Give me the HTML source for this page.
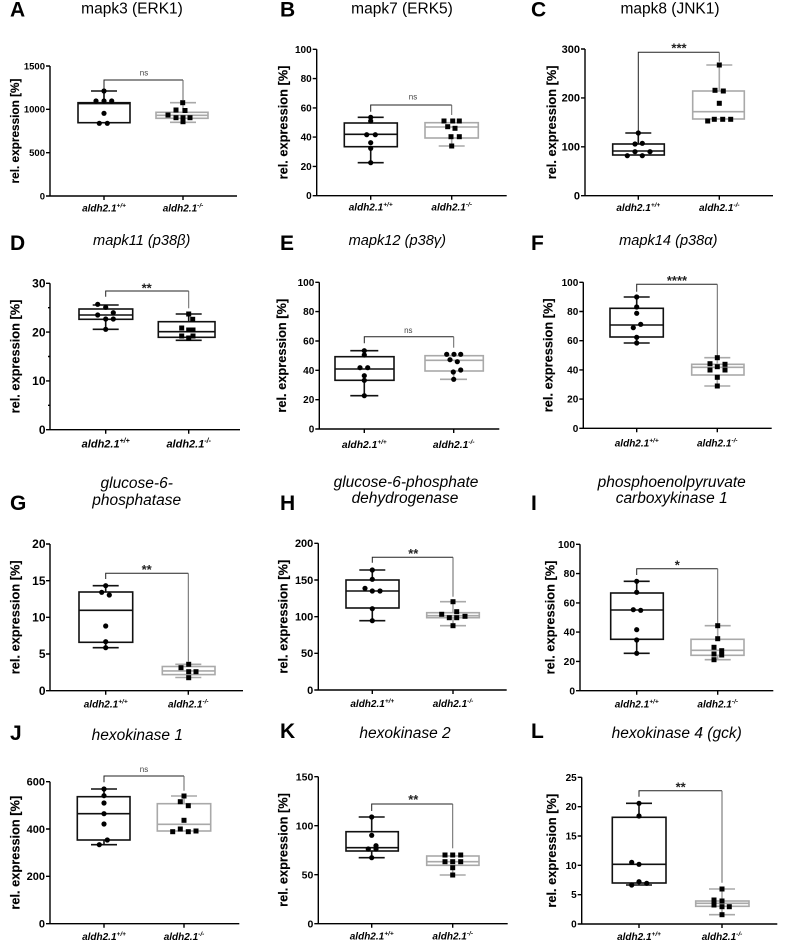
<!DOCTYPE html>
<html><head><meta charset="utf-8"><style>
html,body{margin:0;padding:0;background:#fff}
svg{display:block}
.ax{stroke:#000;stroke-width:1.4;fill:none}
.bk{stroke:#111;stroke-width:1.6;fill:none}
.gy{stroke:#a9a9a9;stroke-width:1.6;fill:none}
.br{stroke:#222;stroke-width:1;fill:none}
.br2{stroke:#666;stroke-width:1;fill:none}
text{font-family:"Liberation Sans",Arial,sans-serif;fill:#000}
.tk{font-weight:bold;text-anchor:end}
.yl{font-weight:bold;font-size:12.8px;text-anchor:middle;stroke:#000;stroke-width:0.15}
.xl{font-weight:bold;font-style:italic;font-size:10px;text-anchor:middle}
.ti{font-size:15.5px;text-anchor:middle}
.it{font-style:italic}
.lt{font-weight:bold;font-size:21px}
.ns{font-size:8px;fill:#444;text-anchor:middle}
.st{font-size:13px;font-weight:bold;fill:#222;text-anchor:middle}
circle{fill:#000}
.q{fill:#000}
</style></head><body>
<svg width="809" height="951" viewBox="0 0 809 951" xmlns="http://www.w3.org/2000/svg">
<rect width="809" height="951" fill="#fff"/>

<!-- ===== A ===== -->
<text class="lt" x="10" y="16.7">A</text>
<text class="ti" x="132" y="13.5">mapk3 (ERK1)</text>
<text class="yl" style="font-size:11.8px" transform="translate(19,131) rotate(-90)">rel. expression [%]</text>
<path class="ax" d="M50,66V196H237M46,66H50M46,109.3H50M46,152.7H50M46,196H50M104,196V200M183,196V200"/>
<g class="tk" style="font-size:9.5px"><text x="45" y="69.3">1500</text><text x="45" y="112.6">1000</text><text x="45" y="156">500</text><text x="45" y="199.3">0</text></g>
<text class="xl" x="104" y="211.5">aldh2.1<tspan font-size="6.5" dy="-4">+/+</tspan></text>
<text class="xl" x="183" y="211.5">aldh2.1<tspan font-size="6.5" dy="-4">-/-</tspan></text>
<rect class="bk" x="78" y="102.7" width="52" height="20"/><path class="bk" d="M78,103.6H130M104,102.7V91M91,91H117"/>
<rect class="gy" x="156" y="112.3" width="52" height="6"/><path class="gy" d="M156,115.3H208M183,112.3V102.7M170,102.7H196M183,118.3V122.3M170,122.3H196"/>
<path class="br" d="M104,90V80H183"/><path class="br2" d="M183,80V100"/>
<text class="ns" x="144" y="75.3">ns</text>
<circle cx="104" cy="91" r="2.6"/><circle cx="96" cy="101" r="2.6"/><circle cx="104" cy="101" r="2.6"/><circle cx="111.7" cy="101" r="2.6"/><circle cx="104" cy="113.3" r="2.6"/><circle cx="99.3" cy="123.3" r="2.6"/><circle cx="107.3" cy="123.3" r="2.6"/>
<g class="q"><rect x="180.2" y="100.2" width="5" height="5"/><rect x="173.5" y="107.5" width="5" height="5"/><rect x="182.5" y="108" width="5" height="5"/><rect x="165.5" y="112.5" width="5" height="5"/><rect x="173.5" y="115.2" width="5" height="5"/><rect x="180.5" y="115.2" width="5" height="5"/><rect x="187.5" y="115.2" width="5" height="5"/><rect x="180.5" y="119.2" width="5" height="5"/></g>

<!-- ===== B ===== -->
<text class="lt" x="280" y="16.7">B</text>
<text class="ti" x="402" y="13.5">mapk7 (ERK5)</text>
<text class="yl" transform="translate(287.5,122.5) rotate(-90)">rel. expression [%]</text>
<path class="ax" d="M316.7,49.3V195.7H506.7M312.7,49.3H316.7M312.7,78.6H316.7M312.7,107.9H316.7M312.7,137.1H316.7M312.7,166.4H316.7M312.7,195.7H316.7M370.7,195.7V199.7M451.7,195.7V199.7"/>
<g class="tk" style="font-size:10px"><text x="311.7" y="52.8">100</text><text x="311.7" y="82.1">80</text><text x="311.7" y="111.4">60</text><text x="311.7" y="140.6">40</text><text x="311.7" y="169.9">20</text><text x="311.7" y="199.2">0</text></g>
<text class="xl" x="370.7" y="210.5">aldh2.1<tspan font-size="6.5" dy="-4">+/+</tspan></text>
<text class="xl" x="451.7" y="210.5">aldh2.1<tspan font-size="6.5" dy="-4">-/-</tspan></text>
<rect class="bk" x="344.3" y="123" width="53" height="23.7"/><path class="bk" d="M344.3,134.3H397.3M370.7,123V117.3M357.7,117.3H383.7M370.7,146.7V162.7M357.7,162.7H383.7"/>
<rect class="gy" x="425" y="122.7" width="53.3" height="15.3"/><path class="gy" d="M425,127H478.3M451.7,138V146M438.7,146H464.7"/>
<path class="br" d="M370.7,111.7V105H451.7"/><path class="br2" d="M451.7,105V115"/>
<text class="ns" x="413" y="99.7">ns</text>
<circle cx="370.7" cy="117.3" r="2.6"/><circle cx="370.7" cy="121" r="2.6"/><circle cx="366.7" cy="134.7" r="2.6"/><circle cx="375.3" cy="134.7" r="2.6"/><circle cx="370.7" cy="142.7" r="2.6"/><circle cx="370.7" cy="148.3" r="2.6"/><circle cx="370.7" cy="162.7" r="2.6"/>
<g class="q"><rect x="441.5" y="118.5" width="5" height="5"/><rect x="450.2" y="118.5" width="5" height="5"/><rect x="456.8" y="118.5" width="5" height="5"/><rect x="445.2" y="124.2" width="5" height="5"/><rect x="452.5" y="125.8" width="5" height="5"/><rect x="448.5" y="134.2" width="5" height="5"/><rect x="456.8" y="134.2" width="5" height="5"/><rect x="449.2" y="143.5" width="5" height="5"/></g>

<!-- ===== C ===== -->
<text class="lt" x="531" y="16.7">C</text>
<text class="ti" x="670" y="13.5">mapk8 (JNK1)</text>
<text class="yl" transform="translate(556,122.4) rotate(-90)">rel. expression [%]</text>
<path class="ax" d="M585,49V195.7H773M581,49H585M581,97.9H585M581,146.8H585M581,195.7H585M638.3,195.7V199.7M719.3,195.7V199.7"/>
<g class="tk" style="font-size:11px"><text x="580" y="52.8">300</text><text x="580" y="101.7">200</text><text x="580" y="150.6">100</text><text x="580" y="199.5">0</text></g>
<text class="xl" x="638.3" y="211">aldh2.1<tspan font-size="6.5" dy="-4">+/+</tspan></text>
<text class="xl" x="719.3" y="211">aldh2.1<tspan font-size="6.5" dy="-4">-/-</tspan></text>
<rect class="bk" x="612.7" y="144" width="51.6" height="11"/><path class="bk" d="M612.7,151H664.3M638.3,144V133M625.3,133H651.3"/>
<rect class="gy" x="692.7" y="91" width="51.6" height="28"/><path class="gy" d="M692.7,111.7H744.3M719.3,91V65M706.3,65H732.3"/>
<path class="br" d="M638.3,131.7V52.3H719.3"/><path class="br2" d="M719.3,52.3V61.7"/>
<text class="st" x="679" y="52.5">***</text>
<circle cx="638.3" cy="133" r="2.6"/><circle cx="635" cy="144" r="2.6"/><circle cx="642.3" cy="143.3" r="2.6"/><circle cx="627.3" cy="155.7" r="2.6"/><circle cx="635" cy="151.7" r="2.6"/><circle cx="642.3" cy="155.7" r="2.6"/><circle cx="650" cy="151.7" r="2.6"/>
<g class="q"><rect x="716.8" y="62.5" width="5" height="5"/><rect x="712.5" y="87.8" width="5" height="5"/><rect x="720.8" y="88.5" width="5" height="5"/><rect x="716.8" y="100.8" width="5" height="5"/><rect x="705.2" y="118.5" width="5" height="5"/><rect x="711.8" y="116.8" width="5" height="5"/><rect x="720.2" y="116.8" width="5" height="5"/><rect x="728.2" y="116.8" width="5" height="5"/></g>

<!-- ===== D ===== -->
<text class="lt" x="10" y="250">D</text>
<text class="ti it" style="font-size:14.6px" x="141.7" y="245">mapk11 (p38β)</text>
<text class="yl" transform="translate(19.5,356.5) rotate(-90)">rel. expression [%]</text>
<path class="ax" d="M50,283.3V429.7H240M46,283.3H50M46,332.1H50M46,380.9H50M46,429.7H50M48,307.7H50M48,356.5H50M48,405.3H50M105.7,429.7V433.7M188.7,429.7V433.7"/>
<g class="tk" style="font-size:12px"><text x="45.5" y="287.5">30</text><text x="45.5" y="336.3">20</text><text x="45.5" y="385.1">10</text><text x="45.5" y="433.9">0</text></g>
<text class="xl" style="font-size:11px" x="105.7" y="447.5">aldh2.1<tspan font-size="7" dy="-4.5">+/+</tspan></text>
<text class="xl" style="font-size:11px" x="188.7" y="447.5">aldh2.1<tspan font-size="7" dy="-4.5">-/-</tspan></text>
<rect class="bk" x="79" y="309" width="53.7" height="10.3"/><path class="bk" d="M79,315H132.7M105.7,309V305M92.7,305H118.7M105.7,319.3V329.3M92.7,329.3H118.7"/>
<rect class="bk" x="158.3" y="321.7" width="56.7" height="15.6"/><path class="bk" d="M158.3,331.7H215M188.7,321.7V314M175.7,314H201.7M188.7,337.3V340.3M175.7,340.3H201.7"/>
<path class="br" d="M105.7,296.7V291H188.7"/><path class="br2" d="M188.7,291V308.3"/>
<text class="st" x="146.7" y="292.5">**</text>
<circle cx="97.7" cy="304.3" r="2.6"/><circle cx="105.7" cy="307.3" r="2.6"/><circle cx="97.7" cy="315" r="2.6"/><circle cx="113.3" cy="312.7" r="2.6"/><circle cx="105.7" cy="319" r="2.6"/><circle cx="113.3" cy="319" r="2.6"/><circle cx="105.7" cy="329.3" r="2.6"/>
<g class="q"><rect x="186.2" y="311.5" width="5" height="5"/><rect x="190.2" y="316.8" width="5" height="5"/><rect x="179.2" y="325.5" width="5" height="5"/><rect x="186.2" y="327.5" width="5" height="5"/><rect x="190.5" y="327.5" width="5" height="5"/><rect x="179.2" y="333.5" width="5" height="5"/><rect x="186.2" y="335.5" width="5" height="5"/><rect x="190.5" y="333.5" width="5" height="5"/></g>

<!-- ===== E ===== -->
<text class="lt" x="280" y="250">E</text>
<text class="ti it" style="font-size:14.6px" x="397.3" y="245">mapk12 (p38γ)</text>
<text class="yl" transform="translate(286,355.7) rotate(-90)">rel. expression [%]</text>
<path class="ax" d="M319.3,282.3V429H499.3M315.3,282.3H319.3M315.3,311.6H319.3M315.3,341H319.3M315.3,370.3H319.3M315.3,399.7H319.3M315.3,429H319.3M364.3,429V433M453.7,429V433"/>
<g class="tk" style="font-size:10px"><text x="314.3" y="285.8">100</text><text x="314.3" y="315.1">80</text><text x="314.3" y="344.5">60</text><text x="314.3" y="373.8">40</text><text x="314.3" y="403.2">20</text><text x="314.3" y="432.5">0</text></g>
<text class="xl" style="font-size:10.3px" x="364.3" y="448">aldh2.1<tspan font-size="6.5" dy="-4">+/+</tspan></text>
<text class="xl" style="font-size:10.3px" x="453.7" y="448">aldh2.1<tspan font-size="6.5" dy="-4">-/-</tspan></text>
<rect class="bk" x="335" y="356.7" width="59" height="23.6"/><path class="bk" d="M335,369H394M364.3,356.7V350.7M350.3,350.7H378.3M364.3,380.3V395.7M350.3,395.7H378.3"/>
<rect class="gy" x="425" y="355.7" width="58.3" height="15.3"/><path class="gy" d="M425,360.3H483.3M453.7,371V379.3M440,379.3H467"/>
<path class="br" d="M364.3,343.3V336.7H453.7"/><path class="br2" d="M453.7,336.7V347.7"/>
<text class="ns" x="408.3" y="333">ns</text>
<circle cx="364.3" cy="350.7" r="2.6"/><circle cx="364.3" cy="355" r="2.6"/><circle cx="360" cy="367.7" r="2.6"/><circle cx="367.7" cy="367.7" r="2.6"/><circle cx="364.3" cy="375.7" r="2.6"/><circle cx="364.3" cy="380.3" r="2.6"/><circle cx="364.3" cy="395.7" r="2.6"/>
<circle cx="446.7" cy="354.3" r="2.6"/><circle cx="454" cy="354.3" r="2.6"/><circle cx="460.7" cy="354.3" r="2.6"/><circle cx="450" cy="359.7" r="2.6"/><circle cx="457.3" cy="361.7" r="2.6"/><circle cx="453.3" cy="372" r="2.6"/><circle cx="460.7" cy="370" r="2.6"/><circle cx="453.7" cy="379.3" r="2.6"/>

<!-- ===== F ===== -->
<text class="lt" x="531" y="250">F</text>
<text class="ti it" style="font-size:14.6px" x="668.3" y="245">mapk14 (p38α)</text>
<text class="yl" transform="translate(552.5,355.3) rotate(-90)">rel. expression [%]</text>
<path class="ax" d="M583.3,282.3V428.3H771.7M579.3,282.3H583.3M579.3,311.5H583.3M579.3,340.7H583.3M579.3,369.9H583.3M579.3,399.1H583.3M579.3,428.3H583.3M636.7,428.3V432.3M717.3,428.3V432.3"/>
<g class="tk" style="font-size:10px"><text x="578.3" y="285.8">100</text><text x="578.3" y="315">80</text><text x="578.3" y="344.2">60</text><text x="578.3" y="373.4">40</text><text x="578.3" y="402.6">20</text><text x="578.3" y="431.8">0</text></g>
<text class="xl" x="636.7" y="446.5">aldh2.1<tspan font-size="6.5" dy="-4">+/+</tspan></text>
<text class="xl" x="717.3" y="446.5">aldh2.1<tspan font-size="6.5" dy="-4">-/-</tspan></text>
<rect class="bk" x="610" y="308.3" width="53.3" height="28.7"/><path class="bk" d="M610,325H663.3M636.7,308.3V297M623.7,297H649.7M636.7,337V343M623.7,343H649.7"/>
<rect class="gy" x="691.7" y="364.3" width="52.3" height="10.7"/><path class="gy" d="M691.7,367.3H744M717.3,364.3V357.7M704.3,357.7H730.3M717.3,375V386M704.3,386H730.3"/>
<path class="br" d="M636.7,291.7V284.3H717.3"/><path class="br2" d="M717.3,284.3V357.7"/>
<text class="st" x="677" y="285.2">****</text>
<circle cx="636.7" cy="297" r="2.6"/><circle cx="636.7" cy="307" r="2.6"/><circle cx="636.7" cy="313.3" r="2.6"/><circle cx="640.7" cy="324.3" r="2.6"/><circle cx="633.3" cy="327.7" r="2.6"/><circle cx="636.7" cy="337.3" r="2.6"/><circle cx="636.7" cy="343" r="2.6"/>
<g class="q"><rect x="714.8" y="355.2" width="5" height="5"/><rect x="707.5" y="361.2" width="5" height="5"/><rect x="722.5" y="361.8" width="5" height="5"/><rect x="707.5" y="367.5" width="5" height="5"/><rect x="714.8" y="364.2" width="5" height="5"/><rect x="722.5" y="367.5" width="5" height="5"/><rect x="714.8" y="374.8" width="5" height="5"/><rect x="714.8" y="383.5" width="5" height="5"/></g>

<!-- ===== G ===== -->
<text class="lt" x="10" y="510">G</text>
<text class="ti it" x="136.7" y="488">glucose-6-</text>
<text class="ti it" x="136.7" y="505">phosphatase</text>
<text class="yl" transform="translate(19.5,617.3) rotate(-90)">rel. expression [%]</text>
<path class="ax" d="M50,544V690.7H243M46,544H50M46,580.7H50M46,617.3H50M46,654H50M46,690.7H50M105.7,690.7V694.7M188.3,690.7V694.7"/>
<g class="tk" style="font-size:12px"><text x="45.5" y="548.2">20</text><text x="45.5" y="584.9">15</text><text x="45.5" y="621.5">10</text><text x="45.5" y="658.2">5</text><text x="45.5" y="694.9">0</text></g>
<text class="xl" x="105.7" y="707.5">aldh2.1<tspan font-size="6.5" dy="-4">+/+</tspan></text>
<text class="xl" x="188.3" y="707.5">aldh2.1<tspan font-size="6.5" dy="-4">-/-</tspan></text>
<rect class="bk" x="79" y="592" width="53.7" height="50.3"/><path class="bk" d="M79,610.3H132.7M105.7,592V585.7M92.7,585.7H118.7M105.7,642.3V647.7M92.7,647.7H118.7"/>
<rect class="gy" x="162.3" y="666.5" width="52.7" height="8.1"/><path class="gy" d="M162.3,670.9H215M188.3,666.5V664.3M175.3,664.3H201.3M188.3,674.6V677.5M175.3,677.5H201.3"/>
<path class="br" d="M105.7,579V573.3H188.3"/><path class="br2" d="M188.3,573.3V661.7"/>
<text class="st" x="146.7" y="574.2">**</text>
<circle cx="105.7" cy="585.7" r="2.6"/><circle cx="101.7" cy="592.3" r="2.6"/><circle cx="109.3" cy="595" r="2.6"/><circle cx="105.7" cy="626" r="2.6"/><circle cx="105.7" cy="641.7" r="2.6"/><circle cx="105.7" cy="647.7" r="2.6"/>
<g class="q"><rect x="178.5" y="665.2" width="5" height="5"/><rect x="186.2" y="661.8" width="5" height="5"/><rect x="186.2" y="669.2" width="5" height="5"/><rect x="193.5" y="669.2" width="5" height="5"/><rect x="186.2" y="675.2" width="5" height="5"/></g>

<!-- ===== H ===== -->
<text class="lt" x="280" y="510">H</text>
<text class="ti it" x="406" y="487">glucose-6-phosphate</text>
<text class="ti it" x="405" y="503">dehydrogenase</text>
<text class="yl" transform="translate(287.5,616.7) rotate(-90)">rel. expression [%]</text>
<path class="ax" d="M318.3,543.3V690H506.7M314.3,543.3H318.3M314.3,580H318.3M314.3,616.7H318.3M314.3,653.3H318.3M314.3,690H318.3M372.3,690V694M453,690V694"/>
<g class="tk" style="font-size:11px"><text x="313.3" y="547.1">200</text><text x="313.3" y="583.8">150</text><text x="313.3" y="620.5">100</text><text x="313.3" y="657.1">50</text><text x="313.3" y="693.8">0</text></g>
<text class="xl" x="372.3" y="707">aldh2.1<tspan font-size="6.5" dy="-4">+/+</tspan></text>
<text class="xl" x="453" y="707">aldh2.1<tspan font-size="6.5" dy="-4">-/-</tspan></text>
<rect class="bk" x="346" y="580" width="53" height="28"/><path class="bk" d="M346,591H399M372.3,580V570M359.3,570H385.3M372.3,608V620.7M359.3,620.7H385.3"/>
<rect class="gy" x="426.7" y="612.7" width="52.6" height="5"/><path class="gy" d="M426.7,615.7H479.3M453,612.7V601.7M440,601.7H466M453,617.7V625.7M440,625.7H466"/>
<path class="br" d="M372.3,562.7V557.3H453"/><path class="br2" d="M453,557.3V596.7"/>
<text class="st" x="413.3" y="558.2">**</text>
<circle cx="372.3" cy="570" r="2.6"/><circle cx="372.3" cy="579.3" r="2.6"/><circle cx="365" cy="588.3" r="2.6"/><circle cx="372.3" cy="591" r="2.6"/><circle cx="380" cy="591" r="2.6"/><circle cx="372.3" cy="608.7" r="2.6"/><circle cx="372.3" cy="620.7" r="2.6"/>
<g class="q"><rect x="450.5" y="599.2" width="5" height="5"/><rect x="439.2" y="611.8" width="5" height="5"/><rect x="454.2" y="609.2" width="5" height="5"/><rect x="446.8" y="615.2" width="5" height="5"/><rect x="454.2" y="615.2" width="5" height="5"/><rect x="462.5" y="613.8" width="5" height="5"/><rect x="450.5" y="623.2" width="5" height="5"/></g>

<!-- ===== I ===== -->
<text class="lt" x="531" y="510">I</text>
<text class="ti it" x="671.7" y="487">phosphoenolpyruvate</text>
<text class="ti it" x="671.7" y="503">carboxykinase 1</text>
<text class="yl" transform="translate(554.5,617.5) rotate(-90)">rel. expression [%]</text>
<path class="ax" d="M580,544.3V690.7H773.3M576,544.3H580M576,573.6H580M576,602.9H580M576,632.1H580M576,661.4H580M576,690.7H580M636.7,690.7V694.7M717.7,690.7V694.7"/>
<g class="tk" style="font-size:10.2px"><text x="575" y="547.9">100</text><text x="575" y="577.2">80</text><text x="575" y="606.5">60</text><text x="575" y="635.7">40</text><text x="575" y="665">20</text><text x="575" y="694.3">0</text></g>
<text class="xl" x="636.7" y="707.5">aldh2.1<tspan font-size="6.5" dy="-4">+/+</tspan></text>
<text class="xl" x="717.7" y="707.5">aldh2.1<tspan font-size="6.5" dy="-4">-/-</tspan></text>
<rect class="bk" x="610.7" y="593" width="52.6" height="46.3"/><path class="bk" d="M610.7,610H663.3M636.7,593V581.3M623.7,581.3H649.7M636.7,639.3V653.3M623.7,653.3H649.7"/>
<rect class="gy" x="691" y="639.3" width="53" height="16"/><path class="gy" d="M691,650.3H744M717.7,639.3V625.7M704.7,625.7H730.7M717.7,655.3V659.7M704.7,659.7H730.7"/>
<path class="br" d="M636.7,575V568.7H717.7"/><path class="br2" d="M717.7,568.7V625"/>
<text class="st" x="677.3" y="569.7">*</text>
<circle cx="636.7" cy="581.3" r="2.6"/><circle cx="636.7" cy="592.3" r="2.6"/><circle cx="633.3" cy="609.7" r="2.6"/><circle cx="640.7" cy="610.3" r="2.6"/><circle cx="636.7" cy="629.7" r="2.6"/><circle cx="636.7" cy="640" r="2.6"/><circle cx="636.7" cy="653.3" r="2.6"/>
<g class="q"><rect x="715.2" y="623.2" width="5" height="5"/><rect x="715.2" y="636.2" width="5" height="5"/><rect x="711.5" y="644.8" width="5" height="5"/><rect x="719.2" y="648.2" width="5" height="5"/><rect x="711.5" y="651.5" width="5" height="5"/><rect x="719.2" y="652.5" width="5" height="5"/><rect x="711.5" y="657.2" width="5" height="5"/></g>

<!-- ===== J ===== -->
<text class="lt" x="10" y="740">J</text>
<text class="ti it" x="137.3" y="740">hexokinase 1</text>
<text class="yl" transform="translate(19.5,852.7) rotate(-90)">rel. expression [%]</text>
<path class="ax" d="M50,781.7V923.7H239.3M46,781.7H50M46,829H50M46,876.3H50M46,923.7H50M104,923.7V927.7M184,923.7V927.7"/>
<g class="tk" style="font-size:11px"><text x="45" y="785.5">600</text><text x="45" y="832.8">400</text><text x="45" y="880.1">200</text><text x="45" y="927.5">0</text></g>
<text class="xl" x="104" y="940">aldh2.1<tspan font-size="6.5" dy="-4">+/+</tspan></text>
<text class="xl" x="184" y="940">aldh2.1<tspan font-size="6.5" dy="-4">-/-</tspan></text>
<rect class="bk" x="77.3" y="796.7" width="52.7" height="43.3"/><path class="bk" d="M77.3,813.7H130M104,796.7V789M91,789H117M104,840V844.7M91,844.7H117"/>
<rect class="gy" x="157.3" y="803.7" width="53.4" height="27.3"/><path class="gy" d="M157.3,824.3H210.7M184,803.7V796M171,796H197"/>
<path class="br" d="M104,782.3V776H184"/><path class="br2" d="M184,776V790.7"/>
<text class="ns" x="144" y="772">ns</text>
<circle cx="104" cy="789" r="2.6"/><circle cx="104" cy="795.7" r="2.6"/><circle cx="104" cy="803" r="2.6"/><circle cx="104" cy="813.7" r="2.6"/><circle cx="104" cy="824" r="2.6"/><circle cx="107.3" cy="840" r="2.6"/><circle cx="99.3" cy="844.7" r="2.6"/>
<g class="q"><rect x="181.5" y="793.5" width="5" height="5"/><rect x="177.8" y="799.2" width="5" height="5"/><rect x="185.8" y="803.2" width="5" height="5"/><rect x="181.5" y="817.8" width="5" height="5"/><rect x="170.2" y="829.2" width="5" height="5"/><rect x="177.8" y="826.5" width="5" height="5"/><rect x="185.8" y="829.2" width="5" height="5"/><rect x="193.5" y="828.5" width="5" height="5"/></g>

<!-- ===== K ===== -->
<text class="lt" x="280" y="738">K</text>
<text class="ti it" x="405" y="738">hexokinase 2</text>
<text class="yl" transform="translate(287.5,850) rotate(-90)">rel. expression [%]</text>
<path class="ax" d="M318.3,776.7V923.7H507.7M314.3,776.7H318.3M314.3,825.7H318.3M314.3,874.7H318.3M314.3,923.7H318.3M371.7,923.7V927.7M452.7,923.7V927.7"/>
<g class="tk" style="font-size:10.5px"><text x="313.3" y="780.4">150</text><text x="313.3" y="829.4">100</text><text x="313.3" y="878.4">50</text><text x="313.3" y="927.4">0</text></g>
<text class="xl" x="371.7" y="939.5">aldh2.1<tspan font-size="6.5" dy="-4">+/+</tspan></text>
<text class="xl" x="452.7" y="939.5">aldh2.1<tspan font-size="6.5" dy="-4">-/-</tspan></text>
<rect class="bk" x="346" y="831.7" width="52.3" height="19.3"/><path class="bk" d="M346,847.7H398.3M371.7,831.7V817M358.7,817H384.7M371.7,851V857.7M358.7,857.7H384.7"/>
<rect class="gy" x="426.7" y="856" width="52.3" height="9.3"/><path class="gy" d="M426.7,861.7H479M452.7,865.3V875M439.7,875H465.7"/>
<path class="br" d="M371.7,811V804H452.7"/><path class="br2" d="M452.7,804V848.3"/>
<text class="st" x="413.3" y="804.2">**</text>
<circle cx="371.7" cy="817" r="2.6"/><circle cx="371.7" cy="835.3" r="2.6"/><circle cx="376" cy="845.7" r="2.6"/><circle cx="368.3" cy="849" r="2.6"/><circle cx="376" cy="849" r="2.6"/><circle cx="371.7" cy="857.7" r="2.6"/>
<g class="q"><rect x="442.5" y="852.5" width="5" height="5"/><rect x="450.2" y="852.5" width="5" height="5"/><rect x="458.2" y="852.5" width="5" height="5"/><rect x="442.5" y="859.2" width="5" height="5"/><rect x="450.2" y="859.2" width="5" height="5"/><rect x="458.2" y="859.2" width="5" height="5"/><rect x="450.2" y="865.2" width="5" height="5"/><rect x="450.2" y="872.5" width="5" height="5"/></g>

<!-- ===== L ===== -->
<text class="lt" x="531" y="738">L</text>
<text class="ti it" x="676.7" y="738">hexokinase 4 (gck)</text>
<text class="yl" transform="translate(556,850.7) rotate(-90)">rel. expression [%]</text>
<path class="ax" d="M581.7,777.3V924H777.3M577.7,777.3H581.7M577.7,806.7H581.7M577.7,836H581.7M577.7,865.3H581.7M577.7,894.7H581.7M577.7,924H581.7M639,924V928M722,924V928"/>
<g class="tk" style="font-size:10px"><text x="576.7" y="780.8">25</text><text x="576.7" y="810.2">20</text><text x="576.7" y="839.5">15</text><text x="576.7" y="868.8">10</text><text x="576.7" y="898.2">5</text><text x="576.7" y="927.5">0</text></g>
<text class="xl" x="639" y="940">aldh2.1<tspan font-size="6.5" dy="-4">+/+</tspan></text>
<text class="xl" x="722" y="940">aldh2.1<tspan font-size="6.5" dy="-4">-/-</tspan></text>
<rect class="bk" x="612.3" y="817.3" width="53.7" height="65.7"/><path class="bk" d="M612.3,864.3H666M639,817.3V803.3M626,803.3H652M639,883V885M626,885H652"/>
<rect class="gy" x="695.7" y="901" width="53.3" height="5.3"/><path class="gy" d="M695.7,903.3H749M722,901V889M709,889H735M722,906.3V914.7M709,914.7H735"/>
<path class="br" d="M639,796.7V790.7H722"/><path class="br2" d="M722,790.7V882.7"/>
<text class="st" x="680.7" y="791.7">**</text>
<circle cx="639" cy="803.3" r="2.6"/><circle cx="639" cy="816" r="2.6"/><circle cx="631.7" cy="862.3" r="2.6"/><circle cx="639" cy="864.3" r="2.6"/><circle cx="639" cy="881.7" r="2.6"/><circle cx="631.7" cy="885" r="2.6"/><circle cx="646.7" cy="883.3" r="2.6"/>
<g class="q"><rect x="719.5" y="886.5" width="5" height="5"/><rect x="711.5" y="897.5" width="5" height="5"/><rect x="719.5" y="898.5" width="5" height="5"/><rect x="711.5" y="902.5" width="5" height="5"/><rect x="719.5" y="904.2" width="5" height="5"/><rect x="726.8" y="904.2" width="5" height="5"/><rect x="719.5" y="912.2" width="5" height="5"/></g>
</svg>
</body></html>
